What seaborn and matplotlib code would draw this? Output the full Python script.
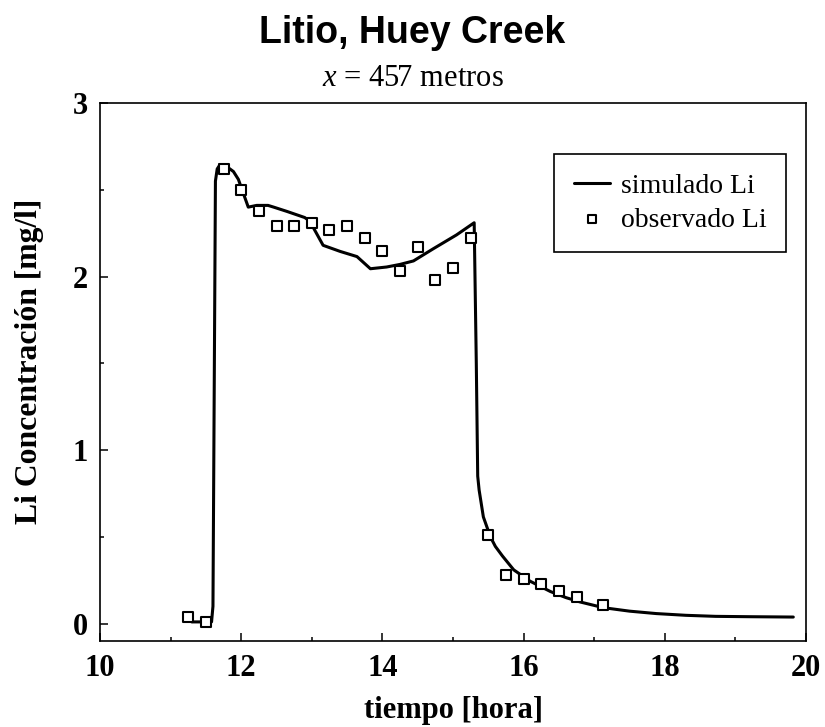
import matplotlib
matplotlib.use("Agg")
import matplotlib.pyplot as plt
import seaborn as sns
import pandas as pd
from matplotlib.ticker import MultipleLocator

# ---- data ----
sim_t = [11.30, 11.58, 11.60, 11.62, 11.635, 11.66, 11.70, 11.79, 11.89, 11.96,
         12.03, 12.10, 12.22, 12.38, 12.46, 12.65, 12.90, 12.97, 13.16, 13.40, 13.64,
         13.83, 14.06, 14.25, 14.44, 14.72, 15.05, 15.30, 15.33, 15.35, 15.37, 15.43,
         15.53, 15.60, 15.70, 15.86, 16.09, 16.38, 16.60, 16.80, 17.13, 17.50, 17.88,
         18.30, 18.72, 19.20, 19.82]
sim_c = [0.01, 0.01, 0.10, 1.50, 2.55, 2.62, 2.645, 2.635, 2.605, 2.56,
         2.48, 2.40, 2.41, 2.41, 2.40, 2.375, 2.34, 2.32, 2.18, 2.145, 2.115,
         2.045, 2.055, 2.07, 2.09, 2.16, 2.24, 2.31, 1.50, 0.85, 0.77, 0.615,
         0.50, 0.445, 0.39, 0.31, 0.245, 0.185, 0.15, 0.125, 0.092, 0.072, 0.058,
         0.048, 0.042, 0.040, 0.038]

obs_t = [11.25, 11.5, 11.75, 12.0, 12.25, 12.5, 12.75, 13.0, 13.25, 13.5, 13.75,
         14.0, 14.25, 14.5, 14.75, 15.0, 15.25, 15.5, 15.75, 16.0, 16.25, 16.5,
         16.75, 17.12]
obs_c = [0.04, 0.01, 2.62, 2.50, 2.38, 2.29, 2.29, 2.31, 2.27, 2.29, 2.22,
         2.15, 2.03, 2.17, 1.98, 2.05, 2.22, 0.51, 0.28, 0.255, 0.23, 0.19,
         0.155, 0.11]

title = "Litio, Huey Creek"
subtitle = r"$x$ = 457 metros"
xlabel = "tiempo [hora]"
ylabel = "Li Concentración [mg/l]"
lab_sim = "simulado Li"
lab_obs = "observado Li"

sim_df = pd.DataFrame({"t": sim_t, "c": sim_c})
obs_df = pd.DataFrame({"t": obs_t, "c": obs_c})

sns.set_style("ticks")
plt.rcParams["font.family"] = ["Liberation Serif", "DejaVu Serif"]
plt.rcParams["mathtext.fontset"] = "custom"
plt.rcParams["mathtext.rm"] = "Liberation Serif"
plt.rcParams["mathtext.it"] = "Liberation Serif:italic"
for k in ["text.color", "axes.labelcolor", "xtick.color", "ytick.color", "axes.edgecolor"]:
    plt.rcParams[k] = "black"

fig, ax = plt.subplots(figsize=(8.25, 7.27), dpi=100)
fig.subplots_adjust(left=100 / 825, right=806 / 825, bottom=1 - 641 / 727, top=1 - 103 / 727)

sns.lineplot(data=sim_df, x="t", y="c", ax=ax, color="black", linewidth=2.2,
             label=lab_sim, sort=False, estimator=None, zorder=2)
sns.scatterplot(data=obs_df, x="t", y="c", ax=ax, marker="s", s=60,
                facecolor="white", edgecolor="black", linewidth=1.5,
                label=lab_obs, zorder=3)

ax.set_xlim(10, 20)
ax.set_ylim(-0.1, 3)
ax.xaxis.set_major_locator(MultipleLocator(2))
ax.xaxis.set_minor_locator(MultipleLocator(1))
ax.yaxis.set_major_locator(MultipleLocator(1))
ax.yaxis.set_minor_locator(MultipleLocator(0.5))
ax.tick_params(which="both", direction="in", width=1.1, colors="black",
               top=False, right=False)
ax.tick_params(which="major", length=6, labelsize=22, pad=9)
ax.tick_params(which="minor", length=3)
for lbl in ax.get_xticklabels() + ax.get_yticklabels():
    lbl.set_fontweight("bold")
for sp in ax.spines.values():
    sp.set_visible(True)
    sp.set_linewidth(1.2)
    sp.set_color("black")

ax.set_xlabel(xlabel, fontsize=22, fontweight="bold", labelpad=10)
ax.set_ylabel(ylabel, fontsize=22.8, fontweight="bold")
ax.yaxis.set_label_coords(-0.08, 0.519)

leg = ax.legend(loc="upper right", bbox_to_anchor=(0.972, 0.905), fontsize=20,
                frameon=True, fancybox=False, edgecolor="black", framealpha=1,
                handlelength=1.3, handletextpad=0.4, borderpad=0.7,
                borderaxespad=0, labelspacing=0.3, markerscale=0.7)
leg.get_frame().set_linewidth(1.2)

fig.text(0.5, 1 - 33 / 727, title, ha="center", va="center", fontsize=27,
         fontweight="bold", family=["Liberation Sans", "DejaVu Sans"])
fig.text(0.5, 1 - 79 / 727, subtitle, ha="center", va="center", fontsize=22)

fig.savefig("out.png", dpi=100)
